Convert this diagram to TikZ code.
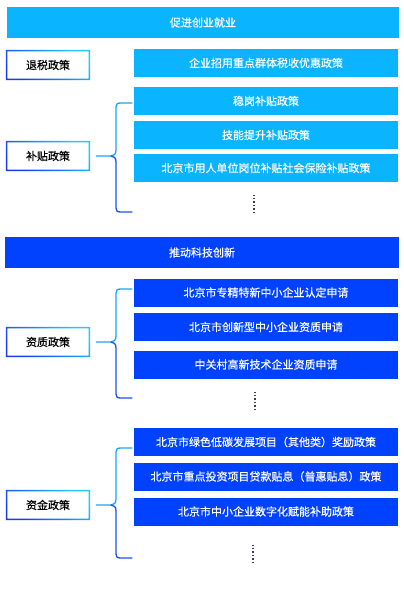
\documentclass[tikz,border=0pt]{standalone}
\usepackage{fontspec}
\setmainfont{Noto Sans CJK SC}[FakeBold=0.5]
\definecolor{lb}{HTML}{0BB4FF}
\definecolor{db}{HTML}{0042FF}
\definecolor{bcyan}{HTML}{22C8FF}
\definecolor{bblue}{HTML}{1A3CF0}
\definecolor{btop}{HTML}{1AA6F6}
\definecolor{bbot}{HTML}{1E52EE}
\definecolor{dotc}{HTML}{3A3A55}
\newcommand\polframe[1]{%
  \shade[even odd rule, top color=bcyan, bottom color=bblue, shading angle=-40]
    (#1.north west) rectangle (#1.south east)
    ([shift={(1.6,1.6)}]#1.north west) rectangle ([shift={(-1.6,-1.6)}]#1.south east);}
\newcommand\polbrace[4]{% #1 label node, #2 mid y, #3 top y, #4 bottom y
  \coordinate (#1mid) at ([xshift=6pt]#1.east);
  \draw[bracestyle, btop] (#1mid) -- (111,#2) .. controls (114,#2) and (116,#2-2) .. (116,#2-6)
     -- (116,#3+4) .. controls (116,#3+1) and (117,#3) .. (121,#3) -- (132,#3);
  \draw[bracestyle, bbot] (111,#2) .. controls (114,#2) and (116,#2+2) .. (116,#2+6)
     -- (116,#4-4) .. controls (116,#4-1) and (117,#4) .. (121,#4) -- (132,#4);}
\begin{document}
\begin{tikzpicture}[x=1pt,y=-1pt,
  txt/.style={font=\fontsize{11}{13}\selectfont},
  banner/.style={txt, fill=#1, text=white, inner sep=0pt, minimum height=31pt},
  item/.style={txt, fill=#1, text=white, inner sep=0pt, minimum width=264pt, minimum height=28pt},
  label/.style={txt, fill=white, text=black, inner sep=0pt, minimum width=84pt, minimum height=30pt},
  bracestyle/.style={line width=1.3pt, line cap=round},
  dotline/.style={dotc, line width=1.6pt, dash pattern=on 1.5pt off 1.9pt}]
\useasboundingbox (0,0) rectangle (404,600);
\fill[white] (0,0) rectangle (404,600);

% section 1
\node[banner=lb, minimum width=392pt] (ban1) at (203,22.5) {促进创业就业};

\node[label] (tax) at (48,65) {退税政策};
\polframe{tax}
\node[item=lb] (a1) at (266,63) {企业招用重点群体税收优惠政策};

\node[label] (sub) at (48,156) {补贴政策};
\polframe{sub}
\node[item=lb] (b1) at (266,101) {稳岗补贴政策};
\node[item=lb] (b2) at (266,135) {技能提升补贴政策};
\node[item=lb] (b3) at (266,168) {北京市用人单位岗位补贴社会保险补贴政策};
\polbrace{sub}{156}{103}{212}
\draw[dotline] (254,194.5) -- (254,214);

% section 2
\node[banner=db, minimum width=394pt] (ban2) at (202,252.5) {推动科技创新};

\node[label] (qual) at (48,342) {资质政策};
\polframe{qual}
\node[item=db] (c1) at (266,292.5) {北京市专精特新中小企业认定申请};
\node[item=db] (c2) at (266,327) {北京市创新型中小企业资质申请};
\node[item=db] (c3) at (266,364.5) {中关村高新技术企业资质申请};
\polbrace{qual}{342}{289}{398}
\draw[dotline] (255,391.5) -- (255,411);

\node[label] (fund) at (48,505) {资金政策};
\polframe{fund}
\node[item=db] (d1) at (266,442) {北京市绿色低碳发展项目（其他类）奖励政策};
\node[item=db] (d2) at (266,476.5) {北京市重点投资项目贷款贴息（普惠贴息）政策};
\node[item=db] (d3) at (266,511.5) {北京市中小企业数字化赋能补助政策};
\polbrace{fund}{505}{448}{558}
\draw[dotline] (253,544.5) -- (253,564);
\end{tikzpicture}
\end{document}
